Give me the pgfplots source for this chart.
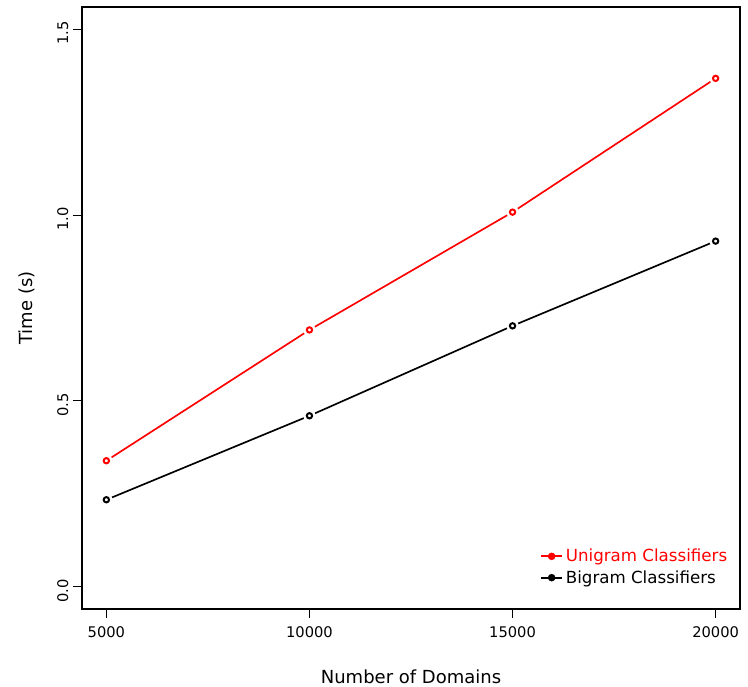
\documentclass[border=0pt]{standalone}
\usepackage{fontspec}
\setmainfont{DejaVu Sans}
\usepackage{pgfplots}
\pgfplotsset{compat=1.18}
\begin{document}
\begin{tikzpicture}
\begin{axis}[
  scale only axis,
  width=493.5pt, height=451.5pt,
  xmin=4400, xmax=20600,
  ymin=-0.06, ymax=1.56,
  xtick={5000,10000,15000,20000},
  ytick={0,0.5,1,1.5},
  scaled ticks=false,
  tick align=outside,
  xtick pos=left, ytick pos=left,
  major tick length=6.75pt,
  axis line style={line width=0.8pt},
  tick style={line width=0.8pt, black},
  /pgf/number format/assume math mode=true,
  xticklabel style={/pgf/number format/set thousands separator={}, font=\fontsize{11}{13}\selectfont, yshift=-3pt},
  yticklabel style={rotate=90, anchor=south, /pgf/number format/fixed, /pgf/number format/fixed zerofill, /pgf/number format/precision=1, font=\fontsize{11}{13}\selectfont, xshift=-3pt},
  xlabel={Number of Domains},
  ylabel={Time (s)},
  label style={font=\fontsize{13.5}{16}\selectfont},
  xlabel style={yshift=-17pt},
  ylabel style={yshift=10pt},
  legend style={draw=none, fill=none, at={(rel axis cs:0.985,0.035)}, anchor=south east, inner sep=0pt, row sep=1pt, font=\fontsize{12.5}{15}\selectfont},
  legend cell align=left,
  legend image code/.code={\draw[#1, line width=1.3pt] (0pt,0pt) -- (16pt,0pt); \fill[#1] (8pt,0pt) circle (2.6pt);},
]
\addplot[red, line width=1.25pt, mark=*, mark size=4.2pt, mark options={draw=white, fill=white}, forget plot] coordinates {(5000,0.339) (10000,0.691) (15000,1.008) (20000,1.368)};
\addplot[red, only marks, mark=o, mark size=2pt, mark options={line width=1.5pt}] coordinates {(5000,0.339) (10000,0.691) (15000,1.008) (20000,1.368)};
\addlegendentry{\textcolor{red}{Unigram Classifiers}}
\addplot[black, line width=1.25pt, mark=*, mark size=4.2pt, mark options={draw=white, fill=white}, forget plot] coordinates {(5000,0.234) (10000,0.460) (15000,0.702) (20000,0.930)};
\addplot[black, only marks, mark=o, mark size=2pt, mark options={line width=1.5pt}] coordinates {(5000,0.234) (10000,0.460) (15000,0.702) (20000,0.930)};
\addlegendentry{Bigram Classifiers}
\end{axis}
\pgfresetboundingbox
\path ([shift={(-61.5pt,-57.75pt)}]current axis.south west) rectangle ([shift={(6pt,5.25pt)}]current axis.north east);
\end{tikzpicture}
\end{document}
